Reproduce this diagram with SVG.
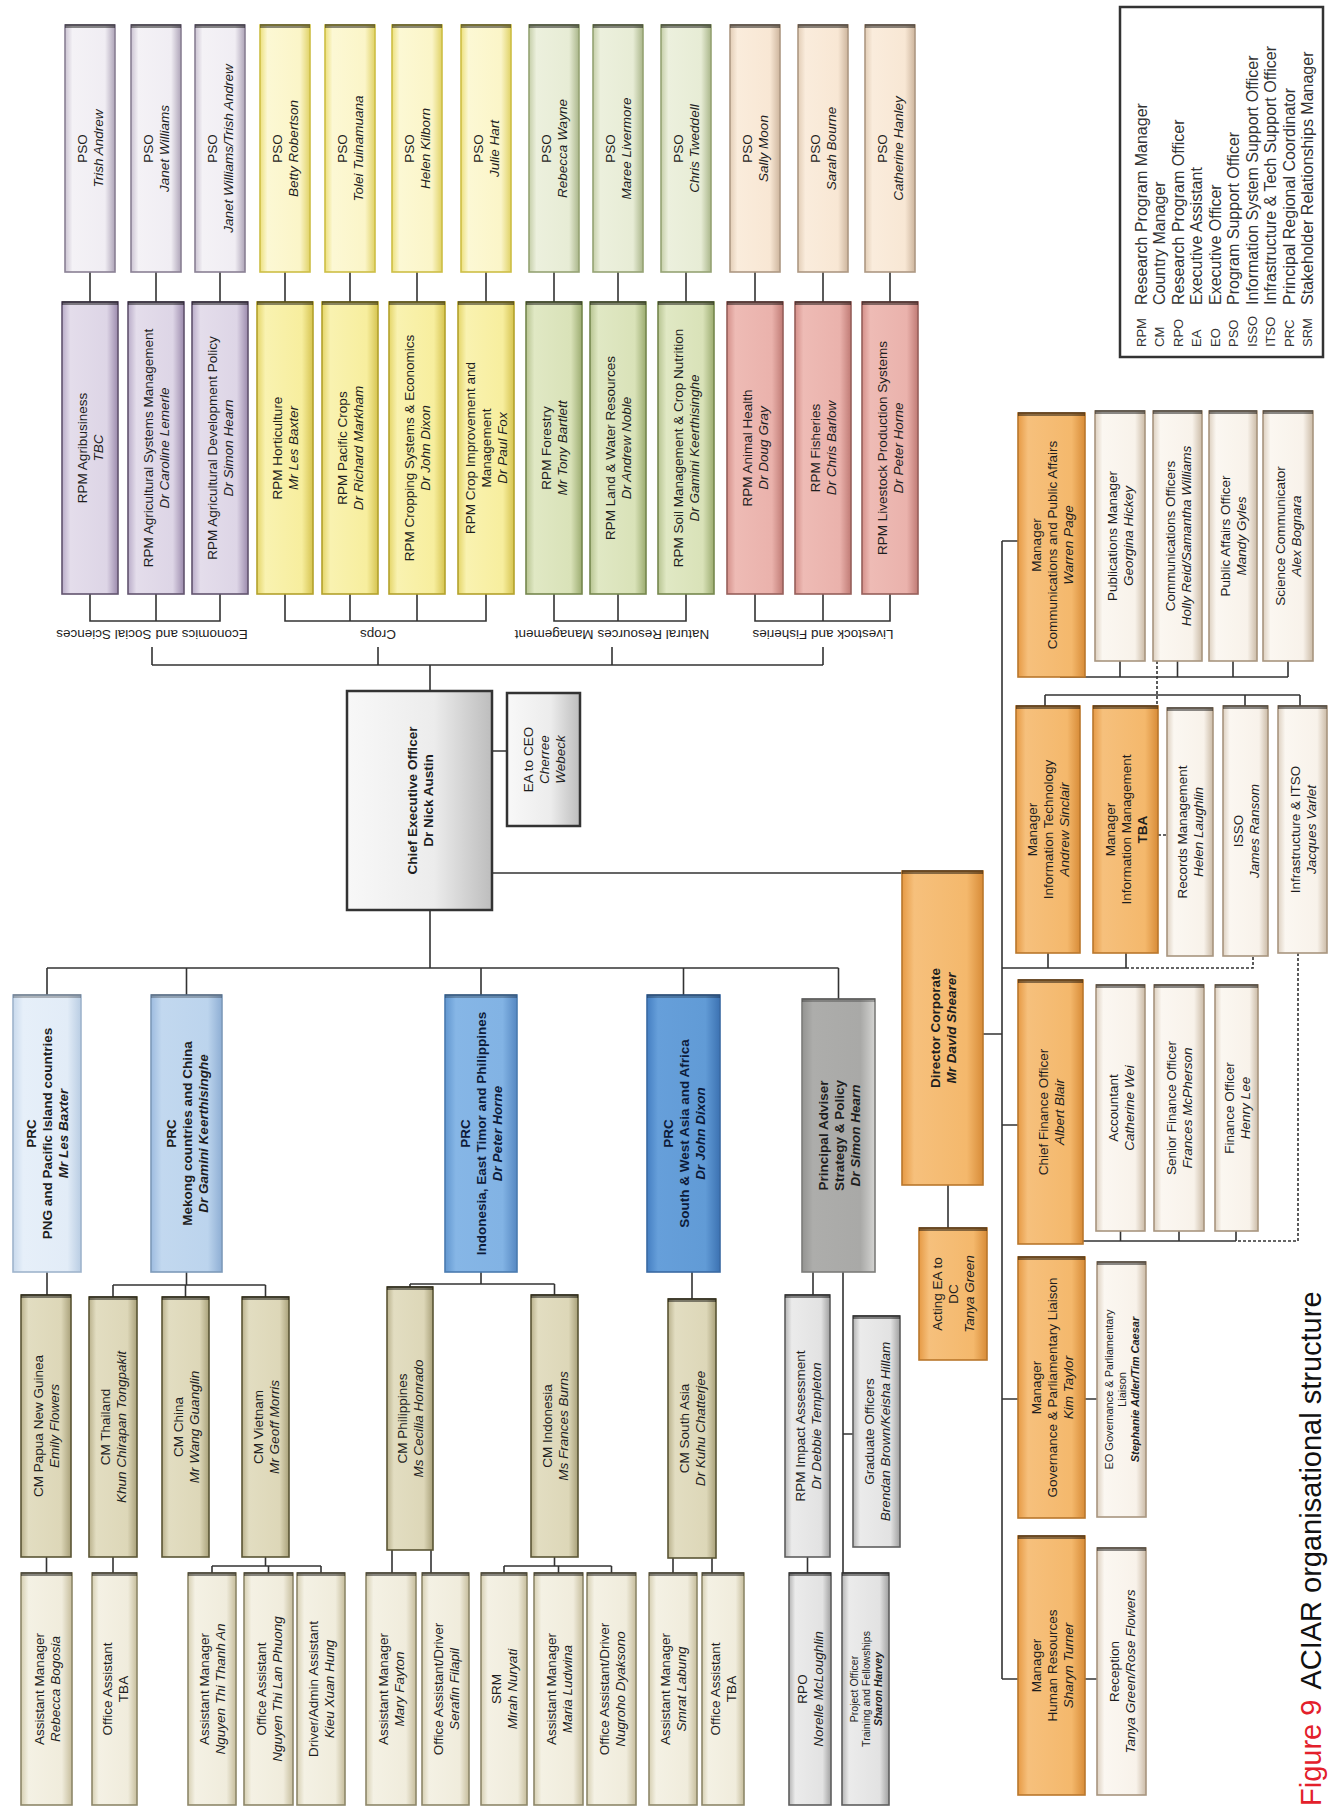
<svg xmlns="http://www.w3.org/2000/svg" width="1330" height="1809" viewBox="0 0 1330 1809">
<style>
text{font-family:"Liberation Sans",Arial,sans-serif;font-size:13.5px;fill:#1e1e1e;dominant-baseline:central;text-anchor:middle}
.b{font-weight:bold}
.i{font-style:italic}
.sm{font-size:11px}
.xs{font-size:10.5px}
.nv{fill:#0d1b3a}
.ln{fill:none;stroke:#333;stroke-width:1.6}
.dash{fill:none;stroke:#333;stroke-width:1.6;stroke-dasharray:3 2}
.cap{fill:none;stroke:#000;stroke-opacity:.45;stroke-width:4}
rect{stroke-width:1.6}
.pE{fill:url(#gPE);stroke:#8a8094}
.rE{fill:url(#gRE);stroke:#62546f}
.pC{fill:url(#gPC);stroke:#cdbf45}
.rC{fill:url(#gRC);stroke:#b3a22c}
.pN{fill:url(#gPN);stroke:#95a374}
.rN{fill:url(#gRN);stroke:#76874e}
.pL{fill:url(#gPL);stroke:#ad9883}
.rL{fill:url(#gRL);stroke:#97605b}
.ceo{fill:url(#gCEO);stroke:#333;stroke-width:2.5}
.p1{fill:url(#gP1);stroke:#9fb4cc}
.p2{fill:url(#gP2);stroke:#7d9aba}
.p3{fill:url(#gP3);stroke:#4a7bb0}
.p4{fill:url(#gP4);stroke:#3a6aa3}
.pa{fill:url(#gPA);stroke:#7c7c7a}
.cm{fill:url(#gCM);stroke:#5b5535}
.st{fill:url(#gST);stroke:#8e876a}
.gy{fill:url(#gGY);stroke:#5e5e5e}
.or{fill:url(#gOR);stroke:#b9772c}
.cs{fill:url(#gCS);stroke:#a8957f}
.leg{fill:#fff;stroke:#333;stroke-width:2.5}
.lt{text-anchor:start;font-size:16px;fill:#333}
.la{text-anchor:start;font-size:13px;fill:#333}
.cap9{text-anchor:start;font-size:29px;dominant-baseline:auto;fill:#111}
</style>
<defs>
<linearGradient id="gPE" x1="0" x2="1" y1="0" y2="0"><stop offset="0" stop-color="#cbc3d2"/><stop offset=".15" stop-color="#f4f2f6"/><stop offset=".8" stop-color="#f0edf3"/><stop offset="1" stop-color="#aea4b8"/></linearGradient>
<linearGradient id="gRE" x1="0" x2="1" y1="0" y2="0"><stop offset="0" stop-color="#b9acc8"/><stop offset=".15" stop-color="#e4ddeb"/><stop offset=".8" stop-color="#ddd5e6"/><stop offset="1" stop-color="#9c8bad"/></linearGradient>
<linearGradient id="gPC" x1="0" x2="1" y1="0" y2="0"><stop offset="0" stop-color="#ece07c"/><stop offset=".15" stop-color="#fcf8d4"/><stop offset=".8" stop-color="#fbf5c8"/><stop offset="1" stop-color="#e0d266"/></linearGradient>
<linearGradient id="gRC" x1="0" x2="1" y1="0" y2="0"><stop offset="0" stop-color="#e4d568"/><stop offset=".15" stop-color="#f9f2b0"/><stop offset=".8" stop-color="#f7ee9e"/><stop offset="1" stop-color="#d6c450"/></linearGradient>
<linearGradient id="gPN" x1="0" x2="1" y1="0" y2="0"><stop offset="0" stop-color="#c5cea8"/><stop offset=".15" stop-color="#ecf0dd"/><stop offset=".8" stop-color="#e7ecd5"/><stop offset="1" stop-color="#aab68a"/></linearGradient>
<linearGradient id="gRN" x1="0" x2="1" y1="0" y2="0"><stop offset="0" stop-color="#b7c491"/><stop offset=".15" stop-color="#e0e8c4"/><stop offset=".8" stop-color="#d9e2b8"/><stop offset="1" stop-color="#9cac70"/></linearGradient>
<linearGradient id="gPL" x1="0" x2="1" y1="0" y2="0"><stop offset="0" stop-color="#e2cdb6"/><stop offset=".15" stop-color="#faecdc"/><stop offset=".8" stop-color="#f8e7d4"/><stop offset="1" stop-color="#cdb59d"/></linearGradient>
<linearGradient id="gRL" x1="0" x2="1" y1="0" y2="0"><stop offset="0" stop-color="#d4908a"/><stop offset=".15" stop-color="#eebbb5"/><stop offset=".8" stop-color="#eab2ac"/><stop offset="1" stop-color="#c07b75"/></linearGradient>
<linearGradient id="gCEO" x1="0" x2="1" y1="0" y2="0"><stop offset="0" stop-color="#f8f8f8"/><stop offset=".6" stop-color="#ececec"/><stop offset="1" stop-color="#bdbdbd"/></linearGradient>
<linearGradient id="gP1" x1="0" x2="1" y1="0" y2="0"><stop offset="0" stop-color="#c8d9ec"/><stop offset=".15" stop-color="#e6eff9"/><stop offset=".8" stop-color="#e2ecf7"/><stop offset="1" stop-color="#b9cde3"/></linearGradient>
<linearGradient id="gP2" x1="0" x2="1" y1="0" y2="0"><stop offset="0" stop-color="#9dbbdf"/><stop offset=".15" stop-color="#c2d8ef"/><stop offset=".8" stop-color="#bcd4ed"/><stop offset="1" stop-color="#8eaed4"/></linearGradient>
<linearGradient id="gP3" x1="0" x2="1" y1="0" y2="0"><stop offset="0" stop-color="#6196cf"/><stop offset=".15" stop-color="#86b6e6"/><stop offset=".8" stop-color="#82b3e4"/><stop offset="1" stop-color="#5688c2"/></linearGradient>
<linearGradient id="gP4" x1="0" x2="1" y1="0" y2="0"><stop offset="0" stop-color="#457fc2"/><stop offset=".15" stop-color="#669fda"/><stop offset=".8" stop-color="#619bd6"/><stop offset="1" stop-color="#3c72b2"/></linearGradient>
<linearGradient id="gPA" x1="0" x2="1" y1="0" y2="0"><stop offset="0" stop-color="#939391"/><stop offset=".15" stop-color="#adadab"/><stop offset=".8" stop-color="#a9a9a7"/><stop offset="1" stop-color="#d4d4d2"/></linearGradient>
<linearGradient id="gCM" x1="0" x2="1" y1="0" y2="0"><stop offset="0" stop-color="#b9b18c"/><stop offset=".15" stop-color="#e2ddc1"/><stop offset=".8" stop-color="#ddd7b8"/><stop offset="1" stop-color="#a9a17a"/></linearGradient>
<linearGradient id="gST" x1="0" x2="1" y1="0" y2="0"><stop offset="0" stop-color="#d6cfb2"/><stop offset=".15" stop-color="#f4f1e4"/><stop offset=".8" stop-color="#f0ecdc"/><stop offset="1" stop-color="#c6bd9c"/></linearGradient>
<linearGradient id="gGY" x1="0" x2="1" y1="0" y2="0"><stop offset="0" stop-color="#b4b4b4"/><stop offset=".15" stop-color="#ebebeb"/><stop offset=".8" stop-color="#e2e2e2"/><stop offset="1" stop-color="#a0a0a0"/></linearGradient>
<linearGradient id="gOR" x1="0" x2="1" y1="0" y2="0"><stop offset="0" stop-color="#e69a45"/><stop offset=".15" stop-color="#f6c07c"/><stop offset=".8" stop-color="#f4b86c"/><stop offset="1" stop-color="#d88c38"/></linearGradient>
<linearGradient id="gCS" x1="0" x2="1" y1="0" y2="0"><stop offset="0" stop-color="#ddd0c0"/><stop offset=".15" stop-color="#fbf7f1"/><stop offset=".8" stop-color="#f8f2ea"/><stop offset="1" stop-color="#cbbba7"/></linearGradient>
</defs>

<g id="connectors">
<path class="ln" d="M90 272V302M156 272V302M220 272V302M285 272V302M350 272V302M417 272V302M486 272V302M554 272V302M618 272V302M686 272V302M755 272V302M823 272V302M890 272V302"/>
<path class="ln" d="M90 594V621H220V594M156 594V621M285 594V621H486V594M350 594V621M417 594V621M554 594V621H686V594M618 594V621M755 594V621H890V594M823 594V621"/>
<path class="ln" d="M152 647V665M378 647V665M612 647V665M823 647V665M152 665H823M430 665V691"/>
<path class="ln" d="M492 751H507M492 873H902M430 910V968M47 968H838.5M47 968V995M186.5 968V995M481 968V995M683.5 968V995M838.5 968V999"/>
<path class="ln" d="M47 1272V1295M186.5 1272V1285M113 1285H265.5M113 1285V1297M185.5 1285V1297M265.5 1285V1297"/>
<path class="ln" d="M481 1272V1284M410 1284H554.5M410 1284V1287M554.5 1284V1295M692 1272V1299M813 1272V1295M843 1272V1573M843 1434H853"/>
<path class="ln" d="M46.5 1557V1573M113 1557V1573M265.5 1557V1566M212 1566H321M212 1566V1573M268.5 1566V1573M321 1566V1573M392 1550V1573M431 1550V1573M554.5 1557V1566M504 1566H611.5M504 1566V1573M558.5 1566V1573M611.5 1566V1573M673 1558V1573M712 1558V1573M807.5 1557V1573"/>
<path class="ln" d="M948 1185V1228M1002 541V1679M983 1034H1002M1002 541H1018M1060 677H1288M1120 661V677M1177.5 661V677M1233 661V677M1288 661V677"/>
<path class="ln" d="M1045 695H1300M1045 695V706M1245 695V706M1300 695V706M1002 968H1126M1048 953V968M1126 953V968"/>
<path class="ln" d="M1002 1125H1018M1083 1241H1236M1120.5 1231V1241M1179 1231V1241M1236 1231V1241M1002 1399H1018M1085 1399H1097M1002 1679H1018M1085 1679H1097"/>
<path class="dash" d="M1126 968H1253V956M1157 661V706M1158 835H1167M1298 953V1241H1236"/>
</g>

<g id="group-labels">
<text transform="translate(152 634) rotate(180)">Economics and Social Sciences</text>
<text transform="translate(378 634) rotate(180)">Crops</text>
<text transform="translate(612 634) rotate(180)">Natural Resources Management</text>
<text transform="translate(823 634) rotate(180)">Livestock and Fisheries</text>
</g>

<g id="pso-trish-andrew"><rect class="pE" x="65" y="25" width="50" height="247"/><path class="cap" d="M65 26h50"/><text transform="translate(90 148.5) rotate(-90)"><tspan x="0" y="-8">PSO</tspan><tspan x="0" y="8" class="i">Trish Andrew</tspan></text></g>
<g id="pso-janet-williams"><rect class="pE" x="131" y="25" width="50" height="247"/><path class="cap" d="M131 26h50"/><text transform="translate(156 148.5) rotate(-90)"><tspan x="0" y="-8">PSO</tspan><tspan x="0" y="8" class="i">Janet Williams</tspan></text></g>
<g id="pso-janet-trish"><rect class="pE" x="195" y="25" width="50" height="247"/><path class="cap" d="M195 26h50"/><text transform="translate(220 148.5) rotate(-90)"><tspan x="0" y="-8">PSO</tspan><tspan x="0" y="8" class="i">Janet Williams/Trish Andrew</tspan></text></g>
<g id="pso-betty-robertson"><rect class="pC" x="260" y="25" width="50" height="247"/><path class="cap" d="M260 26h50"/><text transform="translate(285 148.5) rotate(-90)"><tspan x="0" y="-8">PSO</tspan><tspan x="0" y="8" class="i">Betty Robertson</tspan></text></g>
<g id="pso-tolei"><rect class="pC" x="325" y="25" width="50" height="247"/><path class="cap" d="M325 26h50"/><text transform="translate(350 148.5) rotate(-90)"><tspan x="0" y="-8">PSO</tspan><tspan x="0" y="8" class="i">Tolei Tuinamuana</tspan></text></g>
<g id="pso-helen-kilborn"><rect class="pC" x="392" y="25" width="50" height="247"/><path class="cap" d="M392 26h50"/><text transform="translate(417 148.5) rotate(-90)"><tspan x="0" y="-8">PSO</tspan><tspan x="0" y="8" class="i">Helen Kilborn</tspan></text></g>
<g id="pso-julie-hart"><rect class="pC" x="461" y="25" width="50" height="247"/><path class="cap" d="M461 26h50"/><text transform="translate(486 148.5) rotate(-90)"><tspan x="0" y="-8">PSO</tspan><tspan x="0" y="8" class="i">Julie Hart</tspan></text></g>
<g id="pso-rebecca-wayne"><rect class="pN" x="529" y="25" width="50" height="247"/><path class="cap" d="M529 26h50"/><text transform="translate(554 148.5) rotate(-90)"><tspan x="0" y="-8">PSO</tspan><tspan x="0" y="8" class="i">Rebecca Wayne</tspan></text></g>
<g id="pso-maree-livermore"><rect class="pN" x="593" y="25" width="50" height="247"/><path class="cap" d="M593 26h50"/><text transform="translate(618 148.5) rotate(-90)"><tspan x="0" y="-8">PSO</tspan><tspan x="0" y="8" class="i">Maree Livermore</tspan></text></g>
<g id="pso-chris-tweddell"><rect class="pN" x="661" y="25" width="50" height="247"/><path class="cap" d="M661 26h50"/><text transform="translate(686 148.5) rotate(-90)"><tspan x="0" y="-8">PSO</tspan><tspan x="0" y="8" class="i">Chris Tweddell</tspan></text></g>
<g id="pso-sally-moon"><rect class="pL" x="730" y="25" width="50" height="247"/><path class="cap" d="M730 26h50"/><text transform="translate(755 148.5) rotate(-90)"><tspan x="0" y="-8">PSO</tspan><tspan x="0" y="8" class="i">Sally Moon</tspan></text></g>
<g id="pso-sarah-bourne"><rect class="pL" x="798" y="25" width="50" height="247"/><path class="cap" d="M798 26h50"/><text transform="translate(823 148.5) rotate(-90)"><tspan x="0" y="-8">PSO</tspan><tspan x="0" y="8" class="i">Sarah Bourne</tspan></text></g>
<g id="pso-catherine-hanley"><rect class="pL" x="865" y="25" width="50" height="247"/><path class="cap" d="M865 26h50"/><text transform="translate(890 148.5) rotate(-90)"><tspan x="0" y="-8">PSO</tspan><tspan x="0" y="8" class="i">Catherine Hanley</tspan></text></g>

<g id="rpm-agribusiness"><rect class="rE" x="62" y="302" width="56" height="292"/><path class="cap" d="M62 303h56"/><text transform="translate(90 448) rotate(-90)"><tspan x="0" y="-8">RPM Agribusiness</tspan><tspan x="0" y="8" class="i">TBC</tspan></text></g>
<g id="rpm-agri-systems"><rect class="rE" x="128" y="302" width="56" height="292"/><path class="cap" d="M128 303h56"/><text transform="translate(156 448) rotate(-90)"><tspan x="0" y="-8">RPM  Agricultural Systems Management</tspan><tspan x="0" y="8" class="i">Dr Caroline Lemerle</tspan></text></g>
<g id="rpm-agri-policy"><rect class="rE" x="192" y="302" width="56" height="292"/><path class="cap" d="M192 303h56"/><text transform="translate(220 448) rotate(-90)"><tspan x="0" y="-8">RPM Agricultural Development Policy</tspan><tspan x="0" y="8" class="i">Dr Simon Hearn</tspan></text></g>
<g id="rpm-horticulture"><rect class="rC" x="257" y="302" width="56" height="292"/><path class="cap" d="M257 303h56"/><text transform="translate(285 448) rotate(-90)"><tspan x="0" y="-8">RPM  Horticulture</tspan><tspan x="0" y="8" class="i">Mr Les Baxter</tspan></text></g>
<g id="rpm-pacific-crops"><rect class="rC" x="322" y="302" width="56" height="292"/><path class="cap" d="M322 303h56"/><text transform="translate(350 448) rotate(-90)"><tspan x="0" y="-8">RPM Pacific Crops</tspan><tspan x="0" y="8" class="i">Dr Richard Markham</tspan></text></g>
<g id="rpm-cropping-systems"><rect class="rC" x="389" y="302" width="56" height="292"/><path class="cap" d="M389 303h56"/><text transform="translate(417 448) rotate(-90)"><tspan x="0" y="-8">RPM Cropping Systems &amp; Economics</tspan><tspan x="0" y="8" class="i">Dr John Dixon</tspan></text></g>
<g id="rpm-crop-improvement"><rect class="rC" x="458" y="302" width="56" height="292"/><path class="cap" d="M458 303h56"/><text transform="translate(486 448) rotate(-90)"><tspan x="0" y="-16">RPM Crop Improvement and</tspan><tspan x="0" y="0">Management</tspan><tspan x="0" y="16" class="i">Dr Paul Fox</tspan></text></g>
<g id="rpm-forestry"><rect class="rN" x="526" y="302" width="56" height="292"/><path class="cap" d="M526 303h56"/><text transform="translate(554 448) rotate(-90)"><tspan x="0" y="-8">RPM Forestry</tspan><tspan x="0" y="8" class="i">Mr Tony Bartlett</tspan></text></g>
<g id="rpm-land-water"><rect class="rN" x="590" y="302" width="56" height="292"/><path class="cap" d="M590 303h56"/><text transform="translate(618 448) rotate(-90)"><tspan x="0" y="-8">RPM Land &amp; Water Resources</tspan><tspan x="0" y="8" class="i">Dr Andrew Noble</tspan></text></g>
<g id="rpm-soil"><rect class="rN" x="658" y="302" width="56" height="292"/><path class="cap" d="M658 303h56"/><text transform="translate(686 448) rotate(-90)"><tspan x="0" y="-8">RPM Soil Management &amp; Crop Nutrition</tspan><tspan x="0" y="8" class="i">Dr Gamini Keerthisinghe</tspan></text></g>
<g id="rpm-animal-health"><rect class="rL" x="727" y="302" width="56" height="292"/><path class="cap" d="M727 303h56"/><text transform="translate(755 448) rotate(-90)"><tspan x="0" y="-8">RPM Animal Health</tspan><tspan x="0" y="8" class="i">Dr Doug Gray</tspan></text></g>
<g id="rpm-fisheries"><rect class="rL" x="795" y="302" width="56" height="292"/><path class="cap" d="M795 303h56"/><text transform="translate(823 448) rotate(-90)"><tspan x="0" y="-8">RPM Fisheries</tspan><tspan x="0" y="8" class="i">Dr Chris Barlow</tspan></text></g>
<g id="rpm-livestock"><rect class="rL" x="862" y="302" width="56" height="292"/><path class="cap" d="M862 303h56"/><text transform="translate(890 448) rotate(-90)"><tspan x="0" y="-8">RPM Livestock Production Systems</tspan><tspan x="0" y="8" class="i">Dr Peter Horne</tspan></text></g>

<g id="ceo"><rect class="ceo" x="347" y="691" width="145" height="219"/><text class="b" transform="translate(419.5 800.5) rotate(-90)"><tspan x="0" y="-8">Chief Executive Officer</tspan><tspan x="0" y="8">Dr Nick Austin</tspan></text></g>
<g id="ea-ceo"><rect class="ceo" x="507" y="693" width="73" height="133"/><text transform="translate(543.5 759.5) rotate(-90)"><tspan x="0" y="-16">EA to CEO</tspan><tspan x="0" y="0" class="i">Cherree</tspan><tspan x="0" y="16" class="i">Webeck</tspan></text></g>

<g id="prc-png"><rect class="p1" x="13" y="995" width="68" height="277"/><path class="cap" d="M13 996h68" style="stroke-opacity:.25"/><text class="b" transform="translate(47 1133.5) rotate(-90)"><tspan x="0" y="-16">PRC</tspan><tspan x="0" y="0">PNG and Pacific Island countries</tspan><tspan x="0" y="16" class="i">Mr Les Baxter</tspan></text></g>
<g id="prc-mekong"><rect class="p2" x="151" y="995" width="71" height="277"/><path class="cap" d="M151 996h71" style="stroke-opacity:.25"/><text class="b" transform="translate(186.5 1133.5) rotate(-90)"><tspan x="0" y="-16">PRC</tspan><tspan x="0" y="0">Mekong countries and China</tspan><tspan x="0" y="16" class="i">Dr Gamini Keerthisinghe</tspan></text></g>
<g id="prc-indonesia"><rect class="p3" x="445" y="995" width="72" height="277"/><path class="cap" d="M445 996h72" style="stroke-opacity:.25"/><text class="b nv" transform="translate(481 1133.5) rotate(-90)"><tspan x="0" y="-16">PRC</tspan><tspan x="0" y="0">Indonesia, East Timor and Philippines</tspan><tspan x="0" y="16" class="i">Dr Peter Horne</tspan></text></g>
<g id="prc-south-asia"><rect class="p4" x="647" y="995" width="73" height="277"/><path class="cap" d="M647 996h73" style="stroke-opacity:.25"/><text class="b nv" transform="translate(683.5 1133.5) rotate(-90)"><tspan x="0" y="-16">PRC</tspan><tspan x="0" y="0">South &amp; West Asia and Africa</tspan><tspan x="0" y="16" class="i">Dr John Dixon</tspan></text></g>
<g id="principal-adviser"><rect class="pa" x="802" y="999" width="73" height="273"/><path class="cap" d="M802 1000h73" style="stroke-opacity:.25"/><text class="b" transform="translate(838.5 1135.5) rotate(-90)"><tspan x="0" y="-16">Principal Adviser</tspan><tspan x="0" y="0">Strategy &amp; Policy</tspan><tspan x="0" y="16" class="i">Dr Simon Hearn</tspan></text></g>

<g id="cm-png"><rect class="cm" x="21" y="1295" width="50" height="262"/><path class="cap" d="M21 1296h50"/><text transform="translate(46 1426) rotate(-90)"><tspan x="0" y="-8">CM Papua New Guinea</tspan><tspan x="0" y="8" class="i">Emily Flowers</tspan></text></g>
<g id="cm-thailand"><rect class="cm" x="89" y="1297" width="48" height="260"/><path class="cap" d="M89 1298h48"/><text transform="translate(113 1427) rotate(-90)"><tspan x="0" y="-8">CM Thailand</tspan><tspan x="0" y="8" class="i">Khun Chirapan Tongpakit</tspan></text></g>
<g id="cm-china"><rect class="cm" x="162" y="1297" width="47" height="260"/><path class="cap" d="M162 1298h47"/><text transform="translate(185.5 1427) rotate(-90)"><tspan x="0" y="-8">CM China</tspan><tspan x="0" y="8" class="i">Mr Wang Guanglin</tspan></text></g>
<g id="cm-vietnam"><rect class="cm" x="242" y="1297" width="47" height="260"/><path class="cap" d="M242 1298h47"/><text transform="translate(265.5 1427) rotate(-90)"><tspan x="0" y="-8">CM Vietnam</tspan><tspan x="0" y="8" class="i">Mr Geoff Morris</tspan></text></g>
<g id="cm-philippines"><rect class="cm" x="387" y="1287" width="46" height="263"/><path class="cap" d="M387 1288h46"/><text transform="translate(410 1418.5) rotate(-90)"><tspan x="0" y="-8">CM Philippines</tspan><tspan x="0" y="8" class="i">Ms Cecilia Honrado</tspan></text></g>
<g id="cm-indonesia"><rect class="cm" x="531" y="1295" width="47" height="262"/><path class="cap" d="M531 1296h47"/><text transform="translate(554.5 1426) rotate(-90)"><tspan x="0" y="-8">CM Indonesia</tspan><tspan x="0" y="8" class="i">Ms Frances Burns</tspan></text></g>
<g id="cm-south-asia"><rect class="cm" x="668" y="1299" width="48" height="259"/><path class="cap" d="M668 1300h48"/><text transform="translate(692 1428.5) rotate(-90)"><tspan x="0" y="-8">CM South Asia</tspan><tspan x="0" y="8" class="i">Dr Kuhu Chatterjee</tspan></text></g>
<g id="rpm-impact"><rect class="gy" x="785" y="1295" width="45" height="262"/><path class="cap" d="M785 1296h45"/><text transform="translate(807.5 1426) rotate(-90)"><tspan x="0" y="-8">RPM Impact Assessment</tspan><tspan x="0" y="8" class="i">Dr Debbie Templeton</tspan></text></g>
<g id="graduate-officers"><rect class="gy" x="853" y="1316" width="47" height="231"/><path class="cap" d="M853 1317h47"/><text transform="translate(876.5 1431.5) rotate(-90)"><tspan x="0" y="-8">Graduate Officers</tspan><tspan x="0" y="8" class="i">Brendan Brown/Keisha Hillam</tspan></text></g>

<g id="am-rebecca"><rect class="st" x="21" y="1573" width="51" height="232"/><path class="cap" d="M21 1574h51"/><text transform="translate(46.5 1689) rotate(-90)"><tspan x="0" y="-8">Assistant Manager</tspan><tspan x="0" y="8" class="i">Rebecca Bogosia</tspan></text></g>
<g id="oa-thailand"><rect class="st" x="92" y="1573" width="45" height="232"/><path class="cap" d="M92 1574h45"/><text transform="translate(114.5 1689) rotate(-90)"><tspan x="0" y="-8">Office Assistant</tspan><tspan x="0" y="8">TBA</tspan></text></g>
<g id="am-nguyen"><rect class="st" x="188" y="1573" width="48" height="232"/><path class="cap" d="M188 1574h48"/><text transform="translate(212 1689) rotate(-90)"><tspan x="0" y="-8">Assistant Manager</tspan><tspan x="0" y="8" class="i">Nguyen Thi Thanh An</tspan></text></g>
<g id="oa-nguyen"><rect class="st" x="244" y="1573" width="49" height="232"/><path class="cap" d="M244 1574h49"/><text transform="translate(268.5 1689) rotate(-90)"><tspan x="0" y="-8">Office Assistant</tspan><tspan x="0" y="8" class="i">Nguyen Thi Lan Phuong</tspan></text></g>
<g id="driver-kieu"><rect class="st" x="297" y="1573" width="48" height="232"/><path class="cap" d="M297 1574h48"/><text transform="translate(321 1689) rotate(-90)"><tspan x="0" y="-8">Driver/Admin Assistant</tspan><tspan x="0" y="8" class="i">Kieu Xuan Hung</tspan></text></g>
<g id="am-mary"><rect class="st" x="366" y="1573" width="50" height="232"/><path class="cap" d="M366 1574h50"/><text transform="translate(391 1689) rotate(-90)"><tspan x="0" y="-8">Assistant Manager</tspan><tspan x="0" y="8" class="i">Mary Fayton</tspan></text></g>
<g id="oa-serafin"><rect class="st" x="422" y="1573" width="47" height="232"/><path class="cap" d="M422 1574h47"/><text transform="translate(445.5 1689) rotate(-90)"><tspan x="0" y="-8">Office Assistant/Driver</tspan><tspan x="0" y="8" class="i">Serafin Filapil</tspan></text></g>
<g id="srm-mirah"><rect class="st" x="481" y="1573" width="46" height="232"/><path class="cap" d="M481 1574h46"/><text transform="translate(504 1689) rotate(-90)"><tspan x="0" y="-8">SRM</tspan><tspan x="0" y="8" class="i">Mirah Nuryati</tspan></text></g>
<g id="am-maria"><rect class="st" x="534" y="1573" width="49" height="232"/><path class="cap" d="M534 1574h49"/><text transform="translate(558.5 1689) rotate(-90)"><tspan x="0" y="-8">Assistant Manager</tspan><tspan x="0" y="8" class="i">Maria Ludwina</tspan></text></g>
<g id="oa-nugroho"><rect class="st" x="587" y="1573" width="49" height="232"/><path class="cap" d="M587 1574h49"/><text transform="translate(611.5 1689) rotate(-90)"><tspan x="0" y="-8">Office Assistant/Driver</tspan><tspan x="0" y="8" class="i">Nugroho Dyaksono</tspan></text></g>
<g id="am-smrat"><rect class="st" x="649" y="1573" width="48" height="232"/><path class="cap" d="M649 1574h48"/><text transform="translate(673 1689) rotate(-90)"><tspan x="0" y="-8">Assistant Manager</tspan><tspan x="0" y="8" class="i">Smrat Labung</tspan></text></g>
<g id="oa-south-asia"><rect class="st" x="702" y="1573" width="42" height="232"/><path class="cap" d="M702 1574h42"/><text transform="translate(723 1689) rotate(-90)"><tspan x="0" y="-8">Office Assistant</tspan><tspan x="0" y="8">TBA</tspan></text></g>
<g id="rpo-norelle"><rect class="gy" x="789" y="1573" width="42" height="232"/><path class="cap" d="M789 1574h42"/><text transform="translate(810 1689) rotate(-90)"><tspan x="0" y="-8">RPO</tspan><tspan x="0" y="8" class="i">Norelle McLoughlin</tspan></text></g>
<g id="project-officer"><rect class="gy" x="842" y="1573" width="47" height="232"/><path class="cap" d="M842 1574h47"/><text class="xs" transform="translate(865.5 1689) rotate(-90)"><tspan x="0" y="-12">Project Officer</tspan><tspan x="0" y="0">Training and Fellowships</tspan><tspan x="0" y="12" class="b i">Sharon Harvey</tspan></text></g>

<g id="director-corporate"><rect class="or" x="902" y="871" width="81" height="314"/><path class="cap" d="M902 872h81"/><text class="b" transform="translate(942.5 1028) rotate(-90)"><tspan x="0" y="-8">Director Corporate</tspan><tspan x="0" y="8" class="i">Mr David Shearer</tspan></text></g>
<g id="acting-ea-dc"><rect class="or" x="919" y="1228" width="68" height="132"/><path class="cap" d="M919 1229h68"/><text transform="translate(953 1294) rotate(-90)"><tspan x="0" y="-16">Acting EA to</tspan><tspan x="0" y="0">DC</tspan><tspan x="0" y="16" class="i">Tanya Green</tspan></text></g>
<g id="manager-comms"><rect class="or" x="1018" y="413" width="67" height="264"/><path class="cap" d="M1018 414h67"/><text transform="translate(1051.5 545) rotate(-90)"><tspan x="0" y="-16">Manager</tspan><tspan x="0" y="0">Communications and Public Affairs</tspan><tspan x="0" y="16" class="i">Warren Page</tspan></text></g>
<g id="publications-manager"><rect class="cs" x="1095" y="411" width="50" height="250"/><path class="cap" d="M1095 412h50"/><text transform="translate(1120 536) rotate(-90)"><tspan x="0" y="-8">Publications Manager</tspan><tspan x="0" y="8" class="i">Georgina Hickey</tspan></text></g>
<g id="communications-officers"><rect class="cs" x="1153" y="411" width="49" height="250"/><path class="cap" d="M1153 412h49"/><text transform="translate(1177.5 536) rotate(-90)"><tspan x="0" y="-8">Communications Officers</tspan><tspan x="0" y="8" class="i">Holly Reid/Samantha Williams</tspan></text></g>
<g id="public-affairs-officer"><rect class="cs" x="1209" y="411" width="48" height="250"/><path class="cap" d="M1209 412h48"/><text transform="translate(1233 536) rotate(-90)"><tspan x="0" y="-8">Public Affairs Officer</tspan><tspan x="0" y="8" class="i">Mandy Gyles</tspan></text></g>
<g id="science-communicator"><rect class="cs" x="1263" y="411" width="50" height="250"/><path class="cap" d="M1263 412h50"/><text transform="translate(1288 536) rotate(-90)"><tspan x="0" y="-8">Science Communicator</tspan><tspan x="0" y="8" class="i">Alex Bognara</tspan></text></g>
<g id="manager-it"><rect class="or" x="1016" y="706" width="64" height="247"/><path class="cap" d="M1016 707h64"/><text transform="translate(1048 829.5) rotate(-90)"><tspan x="0" y="-16">Manager</tspan><tspan x="0" y="0">Information Technology</tspan><tspan x="0" y="16" class="i">Andrew Sinclair</tspan></text></g>
<g id="manager-im"><rect class="or" x="1093" y="706" width="65" height="247"/><path class="cap" d="M1093 707h65"/><text transform="translate(1125.5 829.5) rotate(-90)"><tspan x="0" y="-16">Manager</tspan><tspan x="0" y="0">Information Management</tspan><tspan x="0" y="16" class="b">TBA</tspan></text></g>
<g id="records-management"><rect class="cs" x="1167" y="708" width="46" height="248"/><path class="cap" d="M1167 709h46"/><text transform="translate(1190 832) rotate(-90)"><tspan x="0" y="-8">Records Management</tspan><tspan x="0" y="8" class="i">Helen Laughlin</tspan></text></g>
<g id="isso"><rect class="cs" x="1223" y="706" width="45" height="250"/><path class="cap" d="M1223 707h45"/><text transform="translate(1245.5 831) rotate(-90)"><tspan x="0" y="-8">ISSO</tspan><tspan x="0" y="8" class="i">James Ransom</tspan></text></g>
<g id="infrastructure-itso"><rect class="cs" x="1278" y="706" width="49" height="247"/><path class="cap" d="M1278 707h49"/><text transform="translate(1302.5 829.5) rotate(-90)"><tspan x="0" y="-8">Infrastructure &amp; ITSO</tspan><tspan x="0" y="8" class="i">Jacques Varlet</tspan></text></g>
<g id="cfo"><rect class="or" x="1018" y="980" width="65" height="264"/><path class="cap" d="M1018 981h65"/><text transform="translate(1050.5 1112) rotate(-90)"><tspan x="0" y="-8">Chief Finance Officer</tspan><tspan x="0" y="8" class="i">Albert Blair</tspan></text></g>
<g id="accountant"><rect class="cs" x="1096" y="985" width="49" height="246"/><path class="cap" d="M1096 986h49"/><text transform="translate(1120.5 1108) rotate(-90)"><tspan x="0" y="-8">Accountant</tspan><tspan x="0" y="8" class="i">Catherine Wei</tspan></text></g>
<g id="senior-finance-officer"><rect class="cs" x="1154" y="985" width="50" height="246"/><path class="cap" d="M1154 986h50"/><text transform="translate(1179 1108) rotate(-90)"><tspan x="0" y="-8">Senior Finance Officer</tspan><tspan x="0" y="8" class="i">Frances McPherson</tspan></text></g>
<g id="finance-officer"><rect class="cs" x="1215" y="985" width="43" height="246"/><path class="cap" d="M1215 986h43"/><text transform="translate(1236.5 1108) rotate(-90)"><tspan x="0" y="-8">Finance Officer</tspan><tspan x="0" y="8" class="i">Henry Lee</tspan></text></g>
<g id="manager-governance"><rect class="or" x="1018" y="1257" width="67" height="261"/><path class="cap" d="M1018 1258h67"/><text transform="translate(1051.5 1387.5) rotate(-90)"><tspan x="0" y="-16">Manager</tspan><tspan x="0" y="0">Governance &amp; Parliamentary Liaison</tspan><tspan x="0" y="16" class="i">Kim Taylor</tspan></text></g>
<g id="eo-governance"><rect class="cs" x="1097" y="1262" width="49" height="255"/><path class="cap" d="M1097 1263h49"/><text class="sm" transform="translate(1121.5 1389.5) rotate(-90)"><tspan x="0" y="-13">EO Governance &amp; Parliamentary</tspan><tspan x="0" y="0">Liaison</tspan><tspan x="0" y="13" class="b i">Stephanie Adler/Tim Caesar</tspan></text></g>
<g id="manager-hr"><rect class="or" x="1018" y="1536" width="67" height="259"/><path class="cap" d="M1018 1537h67"/><text transform="translate(1051.5 1665.5) rotate(-90)"><tspan x="0" y="-16">Manager</tspan><tspan x="0" y="0">Human Resources</tspan><tspan x="0" y="16" class="i">Sharyn Turner</tspan></text></g>
<g id="reception"><rect class="cs" x="1097" y="1548" width="49" height="247"/><path class="cap" d="M1097 1549h49"/><text transform="translate(1121.5 1671.5) rotate(-90)"><tspan x="0" y="-8">Reception</tspan><tspan x="0" y="8" class="i">Tanya Green/Rose Flowers</tspan></text></g>

<g id="legend">
<rect class="leg" x="1120" y="7" width="203" height="350"/>
<text class="la" transform="translate(1141 347) rotate(-90)">RPM</text><text class="lt" transform="translate(1141 305) rotate(-90)">Research Program Manager</text>
<text class="la" transform="translate(1159.5 347) rotate(-90)">CM</text><text class="lt" transform="translate(1159.5 305) rotate(-90)">Country Manager</text>
<text class="la" transform="translate(1178 347) rotate(-90)">RPO</text><text class="lt" transform="translate(1178 305) rotate(-90)">Research Program Officer</text>
<text class="la" transform="translate(1196.5 347) rotate(-90)">EA</text><text class="lt" transform="translate(1196.5 305) rotate(-90)">Executive Assistant</text>
<text class="la" transform="translate(1215 347) rotate(-90)">EO</text><text class="lt" transform="translate(1215 305) rotate(-90)">Executive Officer</text>
<text class="la" transform="translate(1233.5 347) rotate(-90)">PSO</text><text class="lt" transform="translate(1233.5 305) rotate(-90)">Program Support Officer</text>
<text class="la" transform="translate(1252 347) rotate(-90)">ISSO</text><text class="lt" transform="translate(1252 305) rotate(-90)">Information System Support Officer</text>
<text class="la" transform="translate(1270.5 347) rotate(-90)">ITSO</text><text class="lt" transform="translate(1270.5 305) rotate(-90)">Infrastructure &amp; Tech Support Officer</text>
<text class="la" transform="translate(1289 347) rotate(-90)">PRC</text><text class="lt" transform="translate(1289 305) rotate(-90)">Principal Regional Coordinator</text>
<text class="la" transform="translate(1307.5 347) rotate(-90)">SRM</text><text class="lt" transform="translate(1307.5 305) rotate(-90)">Stakeholder Relationships Manager</text>
</g>

<text class="cap9" transform="translate(1321 1806) rotate(-90)"><tspan fill="#e3202b">Figure 9</tspan><tspan dx="10">ACIAR organisational structure</tspan></text>
</svg>
